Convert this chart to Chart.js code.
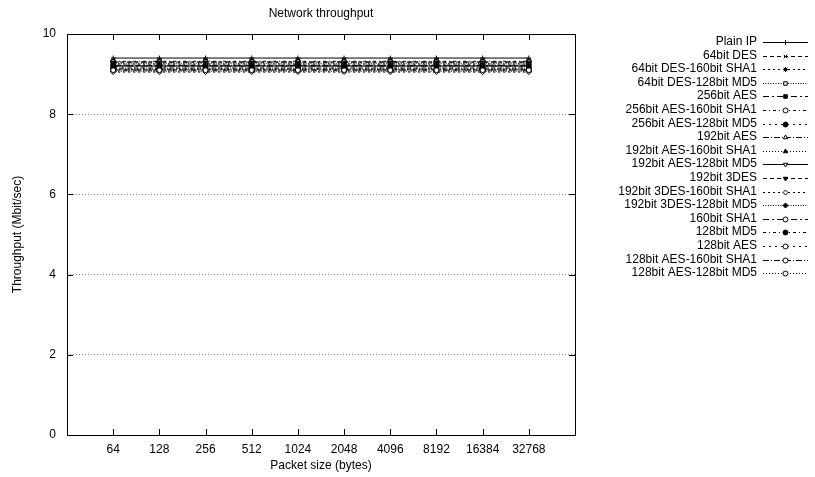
<!DOCTYPE html>
<html>
<head>
<meta charset="utf-8">
<script src="https://cdn.jsdelivr.net/npm/chart.js@4/dist/chart.umd.min.js"></script>
<style>
html,body{margin:0;padding:0;background:#fff;}
#wrap{width:815px;height:477px;}
</style>
</head>
<body>
<div id="wrap"><canvas id="c" width="815" height="477"></canvas></div>
<script>
const packetSizes = ["64","128","256","512","1024","2048","4096","8192","16384","32768"];
const yTicks = [0,2,4,6,8,10];
const seriesNames = [
  "Plain IP","64bit DES","64bit DES-160bit SHA1","64bit DES-128bit MD5",
  "256bit AES","256bit AES-160bit SHA1","256bit AES-128bit MD5",
  "192bit AES","192bit AES-160bit SHA1","192bit AES-128bit MD5",
  "192bit 3DES","192bit 3DES-160bit SHA1","192bit 3DES-128bit MD5",
  "160bit SHA1","128bit MD5","128bit AES","128bit AES-160bit SHA1","128bit AES-128bit MD5"
];
const plainIP        = [9.40,9.40,9.40,9.40,9.40,9.40,9.40,9.40,9.40,9.40];
const des64          = [9.30,9.30,9.30,9.30,9.30,9.30,9.30,9.30,9.30,9.30];
const des64Sha1      = [9.25,9.25,9.25,9.25,9.25,9.25,9.25,9.25,9.25,9.25];
const des64Md5       = [9.27,9.27,9.27,9.27,9.27,9.27,9.27,9.27,9.27,9.27];
const aes256         = [9.20,9.20,9.20,9.20,9.20,9.20,9.20,9.20,9.20,9.20];
const aes256Sha1     = [9.10,9.10,9.10,9.10,9.10,9.10,9.10,9.10,9.10,9.10];
const aes256Md5      = [9.12,9.12,9.12,9.12,9.12,9.12,9.12,9.12,9.12,9.12];
const aes192         = [9.22,9.22,9.22,9.22,9.22,9.22,9.22,9.22,9.22,9.22];
const aes192Sha1     = [9.12,9.12,9.12,9.12,9.12,9.12,9.12,9.12,9.12,9.12];
const aes192Md5      = [9.20,9.20,9.20,9.20,9.20,9.20,9.20,9.20,9.20,9.20];
const des3_192       = [9.15,9.15,9.15,9.15,9.15,9.15,9.15,9.15,9.15,9.15];
const des3_192Sha1   = [9.05,9.05,9.05,9.05,9.05,9.05,9.05,9.05,9.05,9.05];
const des3_192Md5    = [9.07,9.07,9.07,9.07,9.07,9.07,9.07,9.07,9.07,9.07];
const sha1_160       = [9.30,9.30,9.30,9.30,9.30,9.30,9.30,9.30,9.30,9.30];
const md5_128        = [9.32,9.32,9.32,9.32,9.32,9.32,9.32,9.32,9.32,9.32];
const aes128         = [9.22,9.22,9.22,9.22,9.22,9.22,9.22,9.22,9.22,9.22];
const aes128Sha1     = [9.10,9.10,9.10,9.10,9.10,9.10,9.10,9.10,9.10,9.10];
const aes128Md5      = [9.15,9.15,9.15,9.15,9.15,9.15,9.15,9.15,9.15,9.15];
const seriesValues = [plainIP,des64,des64Sha1,des64Md5,aes256,aes256Sha1,aes256Md5,
  aes192,aes192Sha1,aes192Md5,des3_192,des3_192Sha1,des3_192Md5,sha1_160,md5_128,aes128,aes128Sha1,aes128Md5];

const styles = [
  {dash:[], pt:'cross', fill:false, rot:0},
  {dash:[4,3], pt:'crossRot', fill:false, rot:0},
  {dash:[2,3], pt:'star', fill:false, rot:0},
  {dash:[1,1.5], pt:'rect', fill:false, rot:0},
  {dash:[6,3,2,3], pt:'rect', fill:true, rot:0},
  {dash:[3,3,1,3], pt:'circle', fill:false, rot:0},
  {dash:[2,4], pt:'circle', fill:true, rot:0},
  {dash:[6,2,1,2], pt:'triangle', fill:false, rot:0},
  {dash:[1,2], pt:'triangle', fill:true, rot:0},
  {dash:[], pt:'triangle', fill:false, rot:180},
  {dash:[4,3], pt:'triangle', fill:true, rot:180},
  {dash:[2,3], pt:'rectRot', fill:false, rot:0},
  {dash:[1,1.5], pt:'rectRot', fill:true, rot:0},
  {dash:[6,3,2,3], pt:'circle', fill:false, rot:0},
  {dash:[3,3,1,3], pt:'circle', fill:true, rot:0},
  {dash:[2,4], pt:'circle', fill:false, rot:0},
  {dash:[6,2,1,2], pt:'circle', fill:false, rot:0},
  {dash:[1,2], pt:'circle', fill:false, rot:0}
];

const datasets = seriesNames.map((name,i)=>({
  label: name,
  data: seriesValues[i].map((v,j)=>({x:j+1,y:v})),
  borderColor:'#000',
  backgroundColor: styles[i].fill ? '#000' : '#fff',
  borderWidth:1,
  borderDash: styles[i].dash,
  pointStyle: styles[i].pt,
  pointRotation: styles[i].rot,
  pointRadius:2.5,
  pointBorderWidth:1,
  pointBorderColor:'#000',
  pointBackgroundColor: styles[i].fill ? '#000' : '#fff',
  fill:false,
  tension:0
}));

const FONT = "'Liberation Sans', Arial, Helvetica, sans-serif";

const framePlugin = {
  id:'frame',
  afterDraw(chart){
    const ctx = chart.ctx, a = chart.chartArea;
    const xs = chart.scales.x, ys = chart.scales.y;
    ctx.save();
    ctx.strokeStyle='#000'; ctx.lineWidth=1; ctx.setLineDash([]);
    ctx.strokeRect(Math.round(a.left)+0.5, Math.round(a.top)+0.5, Math.round(a.right-a.left), Math.round(a.bottom-a.top));
    ctx.beginPath();
    packetSizes.forEach((_,j)=>{
      const px = Math.round(xs.getPixelForValue(j+1))+0.5;
      ctx.moveTo(px,a.bottom); ctx.lineTo(px,a.bottom-6);
      ctx.moveTo(px,a.top); ctx.lineTo(px,a.top+6);
    });
    yTicks.forEach(v=>{
      const py = Math.round(ys.getPixelForValue(v))+0.5;
      ctx.moveTo(a.left,py); ctx.lineTo(a.left+6,py);
      ctx.moveTo(a.right,py); ctx.lineTo(a.right-6,py);
    });
    ctx.stroke();
    // legend
    const x1 = 763, x2 = 808, tx = 757, y0 = 42, dy = 13.6;
    ctx.font = "12px " + FONT;
    ctx.fillStyle='#000'; ctx.textAlign='right'; ctx.textBaseline='middle';
    chart.data.datasets.forEach((ds,i)=>{
      const y = Math.round(y0 + i*dy);
      ctx.setLineDash([]);
      ctx.fillText(ds.label, tx, y);
      ctx.beginPath();
      ctx.setLineDash(ds.borderDash);
      ctx.moveTo(x1, y+0.5); ctx.lineTo(x2, y+0.5);
      ctx.stroke();
      ctx.setLineDash([]);
      ctx.fillStyle = ds.pointBackgroundColor;
      Chart.helpers.drawPoint(ctx, {pointStyle: ds.pointStyle, rotation: ds.pointRotation, radius:2.5, borderWidth:1}, (x1+x2)/2, y+0.5);
      ctx.fillStyle='#000';
    });
    ctx.restore();
  }
};

new Chart(document.getElementById('c'), {
  type:'line',
  data:{datasets},
  options:{
    responsive:false,
    animation:false,
    devicePixelRatio:1,
    layout:{padding:{left:0,right:240,top:0,bottom:0}},
    plugins:{
      legend:{display:false},
      tooltip:{enabled:false},
      title:{display:false}
    },
    scales:{
      x:{
        type:'linear', min:0, max:packetSizes.length+1,
        afterBuildTicks(s){ s.ticks = packetSizes.map((_,j)=>({value:j+1})); },
        afterFit(s){ s.height = 42; },
        ticks:{color:'#000',font:{family:FONT,size:12},padding:7,maxRotation:0,autoSkip:false,
          callback:(v)=>packetSizes[v-1] ?? ''},
        grid:{display:false,drawTicks:false},
        border:{display:false},
        title:{display:true,text:'Packet size (bytes)',color:'#000',font:{family:FONT,size:12},padding:{top:0,bottom:4}}
      },
      xTop:{
        type:'linear', position:'top', min:0, max:packetSizes.length+1,
        afterFit(s){ s.height = 34; },
        ticks:{display:false},
        grid:{display:false,drawTicks:false},
        border:{display:false},
        title:{display:true,text:'Network throughput',color:'#000',font:{family:FONT,size:12},padding:{top:6,bottom:0}}
      },
      y:{
        min:0,max:10,
        afterBuildTicks(s){ s.ticks = yTicks.map(v=>({value:v})); },
        afterFit(s){ s.width = 67; },
        ticks:{color:'#000',font:{family:FONT,size:12},padding:11},
        grid:{color:'#888',lineWidth:1,drawTicks:false,borderDash:[1,2]},
        border:{display:false, dash:[1,2]},
        title:{display:true,text:'Throughput (Mbit/sec)',color:'#000',font:{family:FONT,size:12},padding:{top:10,bottom:0}}
      }
    }
  },
  plugins:[framePlugin]
});
</script>
</body>
</html>
